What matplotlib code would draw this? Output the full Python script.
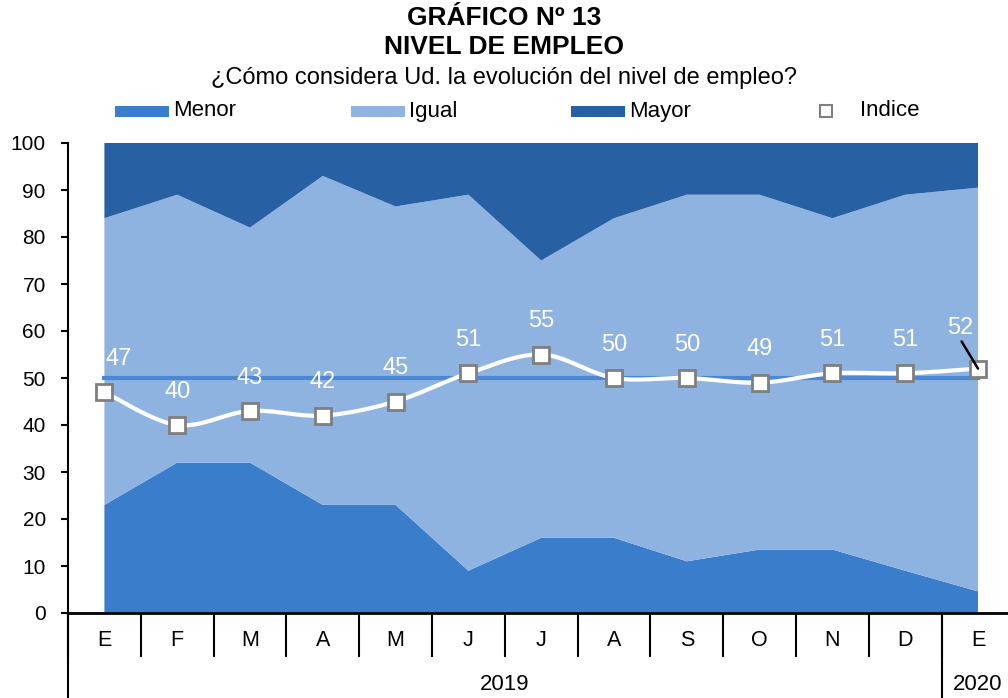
import matplotlib
matplotlib.use("Agg")
import matplotlib.pyplot as plt
from matplotlib.patches import Rectangle
import matplotlib.transforms as mtransforms
import numpy as np

plt.rcParams['font.family'] = ['Liberation Sans', 'DejaVu Sans']

months = ['E', 'F', 'M', 'A', 'M', 'J', 'J', 'A', 'S', 'O', 'N', 'D', 'E']
years = ['2019', '2020']
year_spans = [(0, 11), (12, 12)]

menor = [23, 32, 32, 23, 23, 9, 16, 16, 11, 13.5, 13.5, 9, 4.6]
igual = [61, 57, 50, 70, 63.5, 80, 59, 68, 78, 75.5, 70.5, 80, 85.9]
mayor = [16, 11, 18, 7, 13.5, 11, 25, 16, 11, 11, 16, 11, 9.5]
indice = [47, 40, 43, 42, 45, 51, 55, 50, 50, 49, 51, 51, 52]

c_menor = '#3a7dcb'
c_igual = '#8eb3e1'
c_mayor = '#2760a3'

W, H = 1008, 698


def smooth(x, y, n=24):
    # catmull-rom style curve through the points (like excel smoothed line)
    x = np.asarray(x, float)
    y = np.asarray(y, float)
    px, py = [], []
    for i in range(len(x) - 1):
        x0, y0 = (x[i - 1], y[i - 1]) if i > 0 else (x[i], y[i])
        x3, y3 = (x[i + 2], y[i + 2]) if i + 2 < len(x) else (x[i + 1], y[i + 1])
        x1, y1, x2, y2 = x[i], y[i], x[i + 1], y[i + 1]
        c1 = (x1 + (x2 - x0) / 6, y1 + (y2 - y0) / 6)
        c2 = (x2 - (x3 - x1) / 6, y2 - (y3 - y1) / 6)
        t = np.linspace(0, 1, n)
        bx = (1 - t) ** 3 * x1 + 3 * (1 - t) ** 2 * t * c1[0] + 3 * (1 - t) * t ** 2 * c2[0] + t ** 3 * x2
        by = (1 - t) ** 3 * y1 + 3 * (1 - t) ** 2 * t * c1[1] + 3 * (1 - t) * t ** 2 * c2[1] + t ** 3 * y2
        px.extend(bx)
        py.extend(by)
    return np.array(px), np.array(py)


fig = plt.figure(figsize=(W / 100, H / 100), dpi=100)
ax = fig.add_axes([68 / W, 1 - 613 / H, 946.4 / W, 470 / H])

x = np.arange(len(months))
ax.stackplot(x, menor, igual, mayor, colors=[c_menor, c_igual, c_mayor], linewidth=0)
ax.plot([x[0], x[-1]], [50, 50], color='#4a88d4', lw=3, zorder=3)

sx, sy = smooth(x, indice)
ax.plot(sx, sy, color='white', lw=3, zorder=4)
ax.plot(x, indice, ls='none', marker='s', ms=11.5, mfc='white', mec='#7f7f7f', mew=2, zorder=5)

for i, v in enumerate(indice):
    if i == len(indice) - 1:
        ax.annotate(str(v), (x[i], v), xytext=(-13, 29.5), textcoords='offset points',
                    ha='center', va='center', color='white', fontsize=17,
                    arrowprops=dict(arrowstyle='-', color='black', lw=1.8, shrinkA=0, shrinkB=0,
                                    relpos=(0.5, 0.0)),
                    zorder=6)
        continue
    dx = 10 if i == 0 else 0
    ax.annotate(str(v), (x[i], v), xytext=(dx, 24), textcoords='offset points',
                ha='center', va='center', color='white', fontsize=17, zorder=6)

ax.set_xlim(-0.5, len(months) - 0.5)
ax.set_ylim(0, 100)
ax.set_yticks(range(0, 101, 10))
ax.tick_params(axis='y', labelsize=15, length=5, width=1.5, pad=11)

ax.set_xticks(np.arange(-0.5, len(months), 1))
ax.set_xticklabels([])
ax.tick_params(axis='x', which='major', length=32, width=1.5, direction='out')
ax.set_xticks(x, minor=True)
ax.set_xticklabels(months, minor=True, fontsize=15.5)
ax.tick_params(axis='x', which='minor', length=0, pad=12)

for s in ['top', 'right']:
    ax.spines[s].set_visible(False)
ax.spines['left'].set_linewidth(1.5)
ax.spines['bottom'].set_linewidth(2)

trans = mtransforms.blended_transform_factory(ax.transData, ax.transAxes)
for (a, b), yr in zip(year_spans, years):
    ax.text((a + b) / 2, -(684 - 613) / 470, yr, transform=trans, ha='center', va='center', fontsize=16)
for bnd in [-0.5, 11.5]:
    ax.plot([bnd, bnd], [0, -0.19], transform=trans, color='black', lw=1.5, clip_on=False)

fig.text(0.5, 1 - 18 / H, 'GRÁFICO Nº 13', ha='center', va='center', fontsize=19, fontweight='bold')
fig.text(0.5, 1 - 47 / H, 'NIVEL DE EMPLEO', ha='center', va='center', fontsize=19, fontweight='bold')
fig.text(0.5, 1 - 78 / H, '¿Cómo considera Ud. la evolución del nivel de empleo?', ha='center', va='center', fontsize=17)

# legend, placed by hand like the excel one
leg_y = 1 - 111 / H
for x0, col, lab in [(115, c_menor, 'Menor'), (351, c_igual, 'Igual'), (571, c_mayor, 'Mayor')]:
    fig.add_artist(Rectangle((x0 / W, 1 - 117 / H), 54 / W, 11 / H, transform=fig.transFigure,
                             facecolor=col, edgecolor='none'))
    fig.text((x0 + 58) / W, leg_y, lab, ha='left', va='center', fontsize=16)
fig.add_artist(Rectangle((820 / W, 1 - 117 / H), 12 / W, 12 / H, transform=fig.transFigure,
                         facecolor='white', edgecolor='#7f7f7f', lw=1.5))
fig.text(860 / W, leg_y, 'Indice', ha='left', va='center', fontsize=16)

fig.savefig('out.png', dpi=100)
